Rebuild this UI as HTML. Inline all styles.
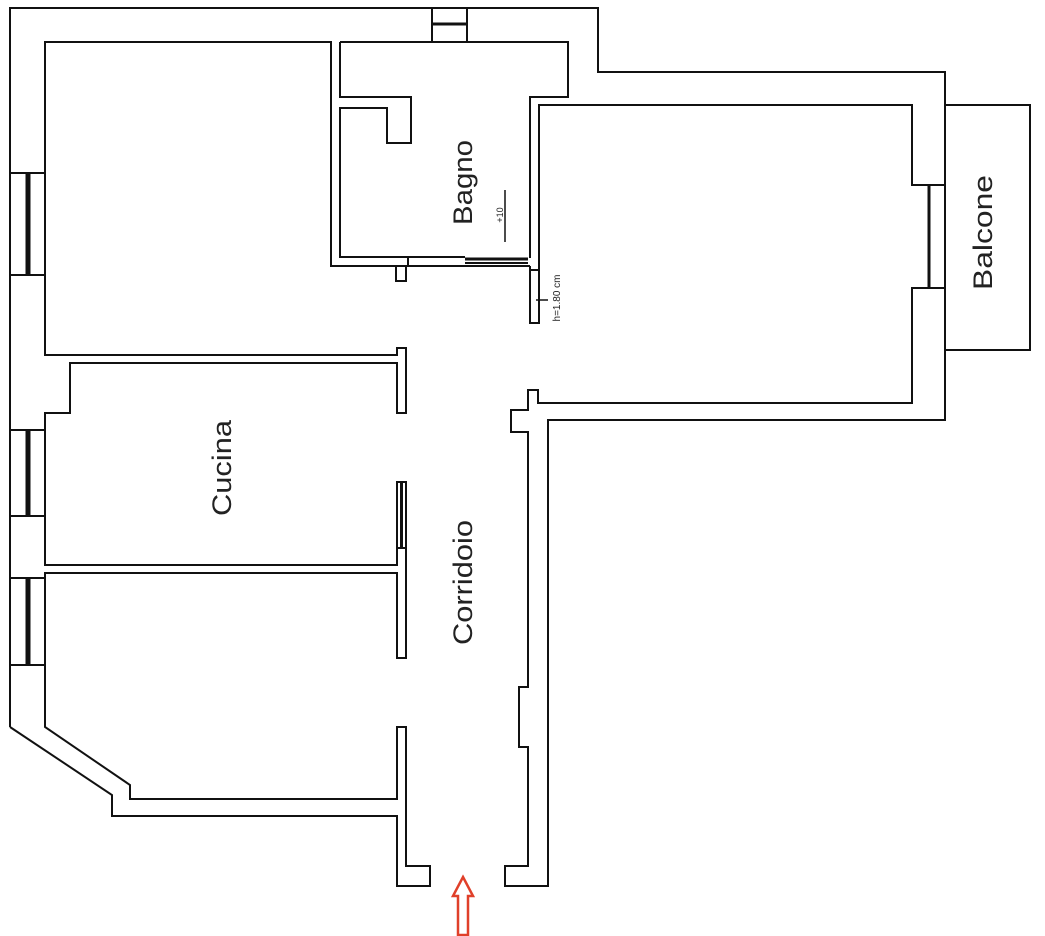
<!DOCTYPE html>
<html><head><meta charset="utf-8"><style>
html,body{margin:0;padding:0;background:#fff;width:1045px;height:936px;overflow:hidden}
svg{display:block}
text{font-family:"Liberation Sans",sans-serif;fill:#222}
</style></head><body>
<svg width="1045" height="936" viewBox="0 0 1045 936" xmlns="http://www.w3.org/2000/svg">
<g fill="none" stroke="#111" stroke-width="2">
<polyline points="10,727 10,8 598,8 598,72 945,72 945,420 548,420 548,886 505,886 505,866 528,866 528,747 519,747 519,687 528,687 528,432 511,432 511,410 528,410 528,390 538,390 538,403 912,403 912,288 945,288"/>
<polyline points="945,185 912,185 912,105 539,105 539,270"/>
<line x1="929" y1="185" x2="929" y2="288" stroke-width="3"/>
<polyline points="945,105 1030,105 1030,350 945,350"/>
<rect x="432" y="8" width="35" height="34"/>
<line x1="432" y1="24" x2="467" y2="24" stroke-width="3"/>
<polyline points="45,173 45,42 331,42 331,266 530,266"/>
<polyline points="45,275 45,355 397,355 397,348 406,348 406,413 397,413 397,363 70,363 70,413 45,413 45,430"/>
<polyline points="340,42 568,42 568,97 530,97 530,258"/>
<polyline points="340,42 340,97 411,97 411,143 387,143 387,108 340,108 340,257 408,257 408,266"/>
<polyline points="396,266 396,281 406,281 406,266"/>
<line x1="408" y1="257" x2="465" y2="257"/>
<line x1="465" y1="259" x2="528" y2="259" stroke-width="3"/>
<line x1="465" y1="263" x2="528" y2="263" stroke-width="2"/>
<polyline points="530,266 530,323 539,323 539,270 530,270"/>
<rect x="10" y="173" width="35" height="102"/>
<line x1="28" y1="173" x2="28" y2="275" stroke-width="5"/>
<rect x="10" y="430" width="35" height="86"/>
<line x1="28" y1="430" x2="28" y2="516" stroke-width="5"/>
<rect x="10" y="578" width="35" height="87"/>
<line x1="28" y1="578" x2="28" y2="665" stroke-width="5"/>
<polyline points="45,516 45,565 397,565 397,548"/>
<rect x="397" y="482" width="9" height="66"/>
<line x1="401.5" y1="482" x2="401.5" y2="548" stroke-width="3"/>
<polyline points="406,548 406,658 397,658 397,573 45,573 45,578"/>
<polyline points="45,665 45,727 130,785 130,799 397,799 397,727 406,727 406,866 430,866 430,886 397,886 397,816 112,816 112,795 10,727"/>
<line x1="505" y1="190" x2="505" y2="242" stroke-width="1.5"/>
<line x1="536" y1="300" x2="548" y2="300" stroke-width="1.5"/>
</g>
<polygon points="463,877 473,896 468,896 468,935 458,935 458,896 453,896" fill="none" stroke="#e0402a" stroke-width="2.5"/>
<text transform="translate(472,225) rotate(-90)" font-size="27" textLength="85" lengthAdjust="spacingAndGlyphs">Bagno</text>
<text transform="translate(231,516) rotate(-90)" font-size="27" textLength="96" lengthAdjust="spacingAndGlyphs">Cucina</text>
<text transform="translate(472,645) rotate(-90)" font-size="27" textLength="125" lengthAdjust="spacingAndGlyphs">Corridoio</text>
<text transform="translate(992,290) rotate(-90)" font-size="27" textLength="115" lengthAdjust="spacingAndGlyphs">Balcone</text>
<text transform="translate(503,215) rotate(-90)" font-size="9" text-anchor="middle">+10</text>
<text transform="translate(560,298) rotate(-90)" font-size="10" text-anchor="middle">h=1.80 cm</text>
</svg>
</body></html>
